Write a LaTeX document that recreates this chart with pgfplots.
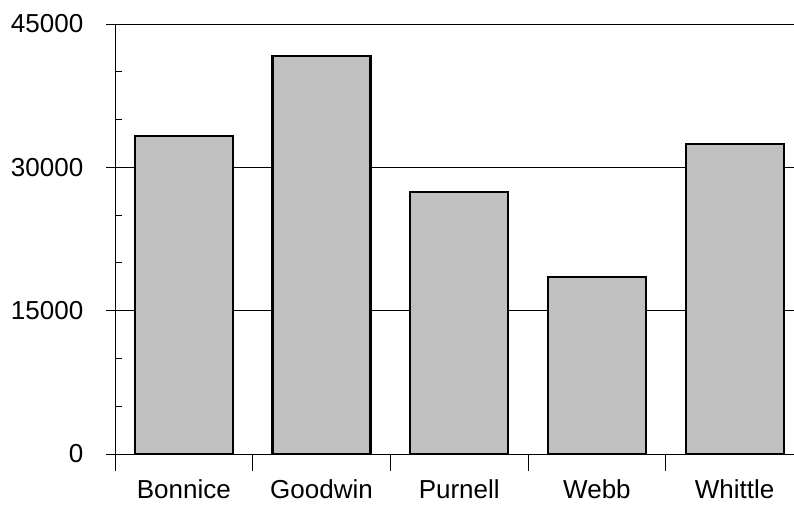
\documentclass[border=0pt]{standalone}
\usepackage{fontspec}
\setmainfont{Liberation Sans}
\usepackage{pgfplots}
\pgfplotsset{compat=1.18}
\begin{document}
\begin{tikzpicture}
\begin{axis}[
  scale only axis,
  width=679pt, height=430pt,
  xmin=-0.5, xmax=4.431,
  ymin=0, ymax=45000,
  axis lines=left,
  axis line style={-, black, line width=0.8pt},
  scaled y ticks=false,
  ytick={0,15000,30000,45000},
  yticklabels={0,15000,30000,45000},
  minor y tick num=2,
  ymajorgrids,
  grid style={black, line width=0.8pt},
  xtick={-0.5,0.5,1.5,2.5,3.5},
  xticklabels={},
  extra x ticks={0,1,2,3,4},
  extra x tick labels={Bonnice,Goodwin,Purnell,Webb,Whittle},
  extra x tick style={major tick length=0pt, xticklabel style={yshift=-25pt}},
  tick align=center,
  major tick length=17pt,
  tick style={black, line width=0.8pt},
  every minor y tick/.append style={xshift=3.3pt},
  minor tick length=6.6pt,
  /pgf/number format/assume math mode=true,
  ticklabel style={font=\fontsize{26}{26}\selectfont},
  yticklabel style={anchor=east, inner sep=0pt, xshift=-23pt},
  xticklabel style={anchor=north, inner sep=0pt},
  ybar, bar width=0.712,
]
\addplot[fill={rgb,255:red,192;green,192;blue,192}, draw=black, line width=2.2pt]
  coordinates {(0,33250) (1,41650) (2,27380) (3,18500) (4,32480)};
\coordinate (A) at (rel axis cs:0,0);
\coordinate (B) at (rel axis cs:1,1);
\end{axis}
\pgfresetboundingbox
\path[use as bounding box] ([xshift=-115pt,yshift=-50pt]A) rectangle ([yshift=24pt]B);
\end{tikzpicture}
\end{document}
